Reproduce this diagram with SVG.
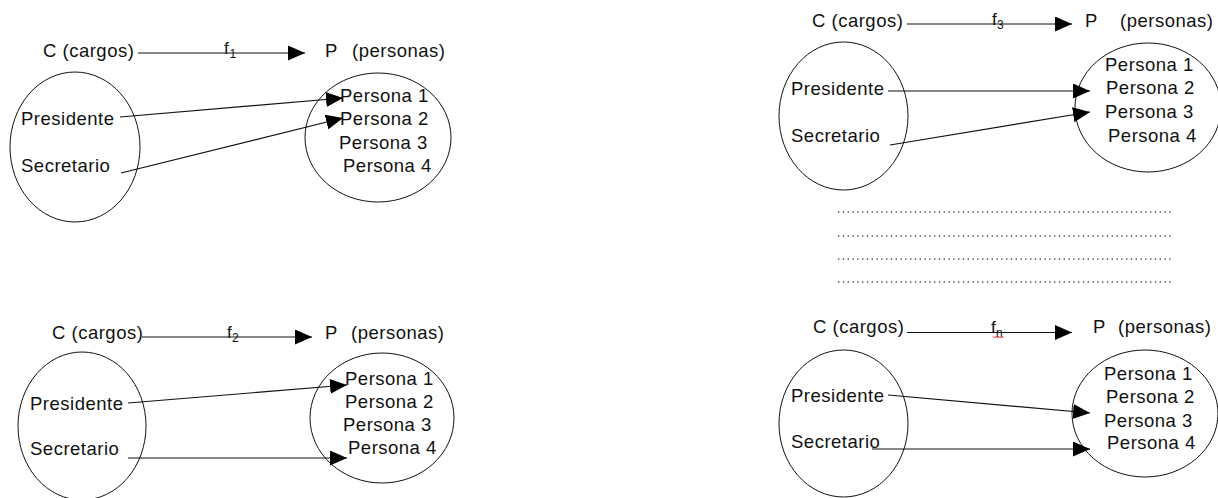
<svg xmlns="http://www.w3.org/2000/svg" width="1218" height="498" viewBox="0 0 1218 498">
<style>
text{font-family:"Liberation Sans",Arial,sans-serif;font-size:18.5px;letter-spacing:0.5px;fill:#111}
.f{font-size:17px;letter-spacing:0}
.s{font-size:12px;letter-spacing:0}
ellipse{fill:none;stroke:#111;stroke-width:1}
line{stroke:#111;stroke-width:1.2;marker-end:url(#ah)}
.dot{stroke:#555;stroke-width:1.4;stroke-dasharray:1.4 3.4;marker-end:none}
</style>
<defs>
<marker id="ah" markerUnits="userSpaceOnUse" markerWidth="17" markerHeight="15" refX="17" refY="7.5" orient="auto">
<path d="M0,0 L17,7.5 L0,15 z" fill="#000"/>
</marker>
</defs>

<g id="panel1">
<g id="p1-C"><text x="43" y="57">C (cargos)</text><ellipse cx="75" cy="147" rx="65" ry="75"/><text x="21" y="125">Presidente</text><text x="21" y="172">Secretario</text></g>
<g id="p1-P"><text><tspan x="325" y="57">P</tspan><tspan x="352" y="57">(personas)</tspan></text><ellipse cx="378" cy="137.5" rx="73" ry="64.5"/>
<text x="340" y="102">Persona 1</text><text x="340" y="125">Persona 2</text><text x="339" y="149">Persona 3</text><text x="343" y="172">Persona 4</text></g>
<g id="p1-f"><text class="f" x="224" y="54">f</text><text class="s" x="229.5" y="58">1</text></g>
</g>

<g id="panel2">
<g id="p2-C"><text x="52" y="339">C (cargos)</text><ellipse cx="82" cy="426" rx="64" ry="74"/><text x="30" y="410">Presidente</text><text x="30" y="455">Secretario</text></g>
<g id="p2-P"><text><tspan x="325" y="339">P</tspan><tspan x="351" y="339">(personas)</tspan></text><ellipse cx="382" cy="418" rx="72" ry="65"/>
<text x="345" y="385">Persona 1</text><text x="345" y="408">Persona 2</text><text x="343" y="431">Persona 3</text><text x="348" y="454">Persona 4</text></g>
<g id="p2-f"><text class="f" x="227" y="338">f</text><text class="s" x="232" y="342">2</text></g>
</g>

<g id="panel3">
<g id="p3-C"><text x="812" y="27">C (cargos)</text><ellipse cx="843.5" cy="116" rx="64.5" ry="74"/><text x="791" y="95">Presidente</text><text x="791" y="142">Secretario</text></g>
<g id="p3-P"><text><tspan x="1085" y="27">P</tspan><tspan x="1120" y="27">(personas)</tspan></text><ellipse cx="1148" cy="107.5" rx="73" ry="64.5"/>
<text x="1105" y="71">Persona 1</text><text x="1106" y="94">Persona 2</text><text x="1105" y="118">Persona 3</text><text x="1108" y="142">Persona 4</text></g>
<g id="p3-f"><text class="f" x="992" y="25">f</text><text class="s" x="997" y="29">3</text></g>
</g>

<g id="panel4">
<g id="p4-C"><text x="813" y="333">C (cargos)</text><ellipse cx="843.5" cy="423.5" rx="64.5" ry="73.5"/><text x="791" y="402">Presidente</text><text x="791" y="448">Secretario</text></g>
<g id="p4-P"><text><tspan x="1093" y="333">P</tspan><tspan x="1118" y="333">(personas)</tspan></text><ellipse cx="1145" cy="413.5" rx="73" ry="63.5"/>
<text x="1104" y="380">Persona 1</text><text x="1106" y="403">Persona 2</text><text x="1104" y="427">Persona 3</text><text x="1107" y="449">Persona 4</text></g>
<g id="p4-f"><text class="f" x="991" y="333">f</text><text class="s" x="996" y="337">n</text>
<path d="M993,336.5 l1.5,1.5 l1.5,-1.5 l1.5,1.5 l1.5,-1.5 l1.5,1.5 l1.5,-1.5 l1.5,1.5" fill="none" stroke="#e00" stroke-width="0.9"/></g>
</g>

<g id="connectors">
<line x1="138" y1="53" x2="305" y2="53"/>
<line x1="120" y1="117" x2="343" y2="98"/>
<line x1="121" y1="173" x2="343" y2="118"/>

<line x1="142" y1="337" x2="312" y2="337"/>
<line x1="128" y1="403" x2="347" y2="385"/>
<line x1="128" y1="458" x2="347" y2="458"/>

<line x1="907" y1="24" x2="1072" y2="24"/>
<line x1="888" y1="91" x2="1090" y2="91"/>
<line x1="890" y1="145" x2="1090" y2="112"/>

<line x1="907" y1="332.5" x2="1072" y2="332.5"/>
<line x1="888" y1="395" x2="1090" y2="413"/>
<line x1="872" y1="449" x2="1090" y2="449"/>
</g>

<g id="dots">
<line class="dot" x1="838" y1="212" x2="1172" y2="212"/>
<line class="dot" x1="838" y1="236" x2="1172" y2="236"/>
<line class="dot" x1="838" y1="259" x2="1172" y2="259"/>
<line class="dot" x1="838" y1="282" x2="1172" y2="282"/>
</g>
</svg>
